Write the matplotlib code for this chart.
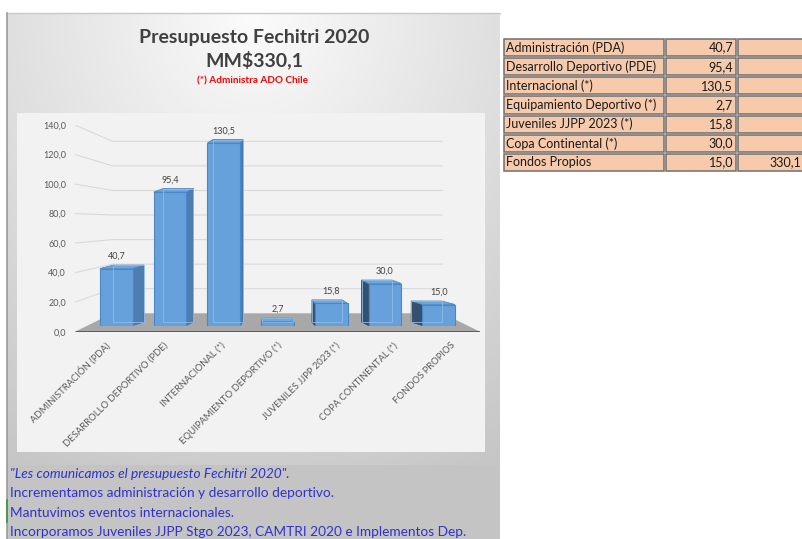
import numpy as np
import matplotlib.pyplot as plt
from matplotlib.patches import Polygon, Rectangle

plt.rcParams['font.family'] = ['Lato', 'DejaVu Sans']

# data
categories = ['Administración (PDA)', 'Desarrollo Deportivo (PDE)', 'Internacional (*)',
              'Equipamiento Deportivo (*)', 'Juveniles JJPP 2023 (*)', 'Copa Continental (*)',
              'Fondos Propios']
values = [40.7, 95.4, 130.5, 2.7, 15.8, 30.0, 15.0]
yticks = [0, 20, 40, 60, 80, 100, 120, 140]
title = 'Presupuesto Fechitri 2020'
subtitle = '(*) Administra ADO Chile'
notes = ['"Les comunicamos el presupuesto Fechitri 2020".',
         'Incrementamos administración y desarrollo deportivo.',
         'Mantuvimos eventos internacionales.',
         'Incorporamos Juveniles JJPP Stgo 2023, CAMTRI 2020 e Implementos Dep.']

W, H = 803, 539
n = len(values)
total = sum(values)


def fmt(v):
    return f'{v:.1f}'.replace('.', ',')


def fax(x0, y0, x1, y1):
    # pixel box -> figure fraction
    return [x0 / W, 1 - y1 / H, (x1 - x0) / W, (y1 - y0) / H]


fig = plt.figure(figsize=(W / 100, H / 100), dpi=100)
bg = fig.add_axes([0, 0, 1, 1])
bg.set_xlim(0, W)
bg.set_ylim(H, 0)
bg.axis('off')

# chart area with soft gradient
gy, gx = np.mgrid[0:1:200j, 0:1:300j]
d = np.sqrt(((gx - 0.5) * 1.1) ** 2 + (gy * 0.9) ** 2)
shade = np.clip(0.985 - 0.2 * d, 0.78, 1)
bg.imshow(np.dstack([shade] * 3), extent=(7, 500, 465, 13), aspect='auto', zorder=0)
bg.plot([7, 500], [13, 13], color='#c8c8c8', lw=1)
bg.plot([7, 7], [13, 539], color='#9a9a9a', lw=1.2)
bg.plot([7, 7], [500, 522], color='#3a9a3a', lw=1.2)
bg.add_patch(Rectangle((17, 113), 468, 339, facecolor='#f2f2f2', edgecolor='none', zorder=1))
bg.add_patch(Rectangle((7.5, 465), 492.5, 80, facecolor='#c4c4c4', edgecolor='none', zorder=1))

bg.text(254, 37, title, ha='center', va='center', fontsize=14, fontweight='bold', color='#404040')
bg.text(254, 60, 'MM$' + fmt(total), ha='center', va='center', fontsize=14, fontweight='bold',
        color='#404040')
bg.text(253, 81, subtitle, ha='center', va='center', fontsize=7.2, fontweight='bold', color='#ff0000')

for k, line in enumerate(notes):
    bg.text(10, 474 + k * 19.3, line, ha='left', va='center', fontsize=9.8, color='#3030d0',
            style='italic' if k == 0 else 'normal')

# table on the right
col_x = [503, 665, 737, 840]
row_h = (172 - 38) / n
for r in range(n):
    y0 = 38 + r * row_h
    for c in range(3):
        bg.add_patch(Rectangle((col_x[c] + 1, y0 + 1), col_x[c + 1] - col_x[c] - 2, row_h - 2,
                               facecolor='#f7caab', edgecolor='#6f6f6f', lw=1.1, zorder=2))
    ym = y0 + row_h / 2
    bg.text(506, ym, categories[r], ha='left', va='center', fontsize=9, color='#1a1a1a', zorder=3)
    bg.text(733, ym, fmt(values[r]), ha='right', va='center', fontsize=9, color='#1a1a1a', zorder=3)
bg.text(801, 38 + (n - 0.5) * row_h, fmt(total), ha='right', va='center', fontsize=9,
        color='#1a1a1a', zorder=3)

# back wall, floor and value axis
xl0, xr0 = -0.77, n - 1 + 0.77
xlb, xrb = -0.07, n - 1 + 0.07
back0, back_k = 12.47, 0.832
ax = fig.add_axes(fax(75, 125, 480, 331.7))
ax.set_xlim(xl0, xr0)
ax.set_ylim(0, 140)
ax.patch.set_visible(False)
for s in ax.spines.values():
    s.set_visible(False)
for v in yticks[1:]:
    yb = back0 + back_k * v
    ax.plot([xl0, xlb, xrb], [v, yb, yb], color='#d9d9d9', lw=0.8, zorder=1)
ax.add_patch(Polygon([(xl0, 0), (xr0, 0), (xrb, back0), (xlb, back0)], closed=True,
                     facecolor='#a8a8a8', edgecolor='none', zorder=2))
ax.plot([xl0, xr0], [0, 0], color='#3f3f3f', lw=1.8, zorder=3, solid_capstyle='butt')
ax.set_yticks(yticks)
ax.set_yticklabels([fmt(v) for v in yticks], fontsize=6.5, color='#595959')
ax.tick_params(axis='y', length=0, pad=6.5)
ax.set_xticks([])

xc = (n - 1) / 2
for i, cat in enumerate(categories):
    ax.annotate(cat.upper(), xy=(xc + (i - xc) * 1.07, 0), xytext=(2.5, -9),
                textcoords='offset points', rotation=45, rotation_mode='anchor',
                ha='right', va='center', fontsize=6.8, color='#595959', annotation_clip=False)

# 3D-looking bars
bx = fig.add_axes(fax(75, 125, 480, 325.5))
bx.set_xlim(xl0, xr0)
bx.set_ylim(0, 200.5 / 1.398)
bx.axis('off')
w, f, dy = 0.61, 0.076, 2.5
for i, v in enumerate(values):
    xl, xr = i - w / 2, i + w / 2
    dxl, dxr = f * (xc - xl), f * (xc - xr)
    if i < xc:
        bx.add_patch(Polygon([(xr, 0), (xr, v), (xr + dxr, v + dy), (xr + dxr, dy)],
                             facecolor='#4f7db0', edgecolor='#3f6fa5', lw=0.6, zorder=2))
    elif i > xc:
        bx.add_patch(Polygon([(xl, 0), (xl, v), (xl + dxl, v + dy), (xl + dxl, dy)],
                             facecolor='#34506f', edgecolor='#2f4a68', lw=0.6, zorder=2))
    bx.add_patch(Polygon([(xl, v), (xr, v), (xr + dxr, v + dy), (xl + dxl, v + dy)],
                         facecolor='#6fa6dd', edgecolor='#4a86c8', lw=0.6, zorder=2))
    bx.bar(i, v, width=w, color='#66a1dc', edgecolor='#4a86c8', lw=0.8, zorder=3)
    bx.add_patch(Rectangle((xl + dxl, dy), (xr + dxr) - (xl + dxl), v, fill=False,
                           edgecolor='#8dbbe8', lw=0.6, zorder=4))
    bx.annotate(fmt(v), xy=(i, v + dy), xytext=(0, 6.2), textcoords='offset points',
                ha='center', va='center', fontsize=6.5, color='#404040', annotation_clip=False)

fig.savefig('out.png', dpi=100)
